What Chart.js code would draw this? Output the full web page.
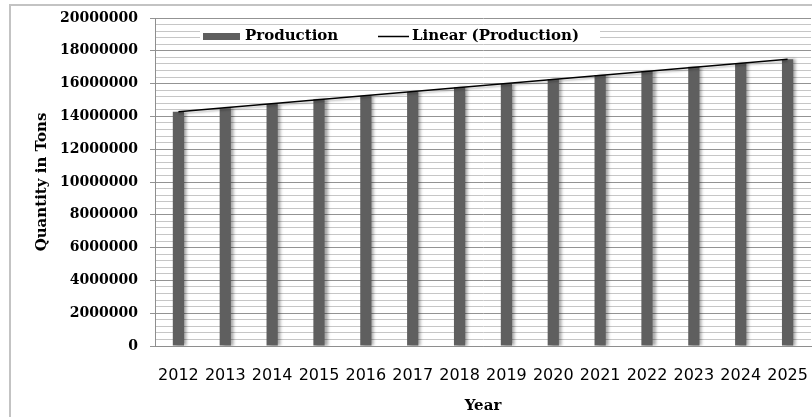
<!DOCTYPE html>
<html>
<head>
<meta charset="utf-8">
<script src="https://cdn.jsdelivr.net/npm/chart.js@4/dist/chart.umd.min.js"></script>
<style>
	body { margin: 0; background: #fff; }
	#wrap { position: relative; width: 812px; height: 417px; overflow: hidden; }
	#frame { position: absolute; left: 9px; top: 4px; width: 900px; height: 500px; border-left: 2px solid #c3c3c3; border-top: 2px solid #c3c3c3; }
	#box { position: absolute; left: 0; top: 0; width: 812px; height: 417px; }
</style>
</head>
<body>
<div id="wrap">
	<div id="frame"></div>
	<div id="box"><canvas id="myChart"></canvas></div>
</div>
<script>
//years along the bottom
const years = ['2012', '2013', '2014', '2015', '2016', '2017', '2018', '2019', '2020', '2021', '2022', '2023', '2024', '2025'];
//production in tons
const production = [14290000, 14490000, 14760000, 15040000, 15260000, 15510000, 15770000, 15980000, 16280000, 16520000, 16770000, 17030000, 17240000, 17480000];
const trend = [14280000, null, null, null, null, null, null, null, null, null, null, null, null, 17490000];
//y axis
const y_max = 20000000;
const y_major = 2000000;
const y_minor = 400000;

//shadow under the bars and the trend line
const shadow_plugin = {
	id: 'shadow',
	beforeDatasetDraw(chart, args) {
		const c = chart.ctx;
		c.save();
		if (args.index === 0) {
			c.shadowColor = 'rgba(0, 0, 0, 0.35)';
			c.shadowOffsetX = 3;
			c.shadowOffsetY = 0;
			c.shadowBlur = 3;
		} else {
			c.shadowColor = 'rgba(0, 0, 0, 0.25)';
			c.shadowOffsetX = 0;
			c.shadowOffsetY = 2;
			c.shadowBlur = 2;
		}
	},
	afterDatasetDraw(chart) {
		chart.ctx.restore();
	}
};

//legend sits inside the plot at the top, on a white strip
const legend_plugin = {
	id: 'inlegend',
	afterDraw(chart) {
		const c = chart.ctx;
		const ds = chart.data.datasets;
		c.save();
		c.fillStyle = '#ffffff';
		c.fillRect(200, 27, 400, 16);
		//bar swatch
		c.fillStyle = ds[0].backgroundColor;
		c.fillRect(203, 33, 37, 7);
		c.font = 'bold 15px "DejaVu Serif"';
		c.fillStyle = '#000';
		c.textBaseline = 'middle';
		c.fillText(ds[0].label, 245, 36);
		//line swatch
		c.strokeStyle = ds[1].borderColor;
		c.lineWidth = 1.5;
		c.beginPath();
		c.moveTo(378, 36.5);
		c.lineTo(409, 36.5);
		c.stroke();
		c.fillText(ds[1].label, 412, 36);
		c.restore();
	}
};

const ctx = document.getElementById('myChart');
const myChart = new Chart(ctx, {
	type: 'bar',
	data: {
		labels: years,
		datasets: [
			{
				label: 'Production',
				data: production,
				backgroundColor: '#5f5f5f',
				borderWidth: 0,
				barPercentage: 0.24,
				categoryPercentage: 1,
				order: 1
			},
			{
				type: 'line',
				label: 'Linear (Production)',
				data: trend,
				borderColor: '#000000',
				borderWidth: 1.5,
				pointRadius: 0,
				spanGaps: true,
				fill: false,
				order: 0
			}
		]
	},
	options: {
		responsive: true,
		maintainAspectRatio: false,
		animation: false,
		layout: {
			padding: { left: 0, top: 18, right: 1, bottom: 0 }
		},
		plugins: {
			legend: { display: false },
			tooltip: { enabled: false }
		},
		scales: {
			x: {
				offset: true,
				grid: { display: false, drawTicks: false },
				border: { color: '#8e8e8e', width: 1 },
				ticks: {
					autoSkip: false,
					maxRotation: 0,
					padding: 20,
					color: '#000',
					font: { family: '"DejaVu Sans"', size: 16 }
				},
				title: {
					display: true,
					text: 'Year',
					color: '#000',
					padding: { top: 0, bottom: 2 },
					font: { family: '"DejaVu Serif"', size: 15, weight: 'bold' }
				},
				afterFit(scale) {
					scale.height = 71;
					scale.paddingLeft = 0;
					scale.paddingRight = 0;
				}
			},
			y: {
				min: 0,
				max: y_max,
				grid: {
					color: (c) => (c.tick.value % y_major === 0 ? '#939393' : '#c6c6c6'),
					tickColor: (c) => (c.tick.value % y_major === 0 ? '#939393' : 'rgba(0,0,0,0)'),
					tickLength: 5
				},
				border: { color: '#8e8e8e', width: 1 },
				ticks: {
					stepSize: y_minor,
					autoSkip: false,
					padding: 12,
					color: '#000',
					font: { family: '"DejaVu Serif"', size: 14, weight: 'bold' },
					callback: (v) => (v % y_major === 0 ? String(v) : '')
				},
				title: {
					display: true,
					text: 'Quantity in Tons',
					color: '#000',
					padding: { top: 33, bottom: 0 },
					font: { family: '"DejaVu Serif"', size: 15, weight: 'bold' }
				},
				afterFit(scale) {
					scale.width = 155;
					scale.paddingTop = 0;
					scale.paddingBottom = 0;
				}
			}
		}
	},
	plugins: [shadow_plugin, legend_plugin]
});
</script>
</body>
</html>
